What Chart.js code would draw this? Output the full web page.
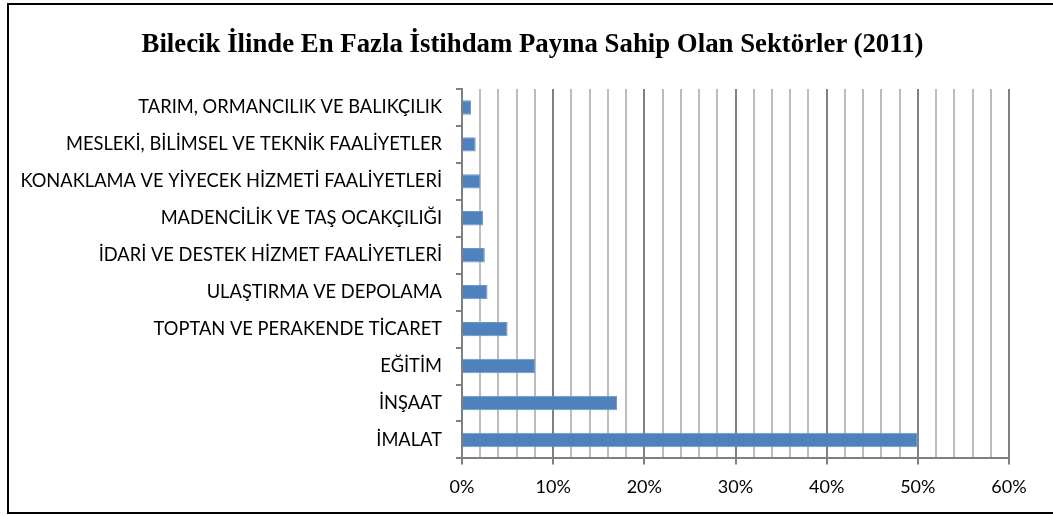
<!DOCTYPE html>
<html>
<head>
<meta charset="utf-8">
<script src="https://cdn.jsdelivr.net/npm/chart.js@4"></script>
<style>
  html, body { margin: 0; padding: 0; background: #fff; }
  #wrap { position: relative; width: 1053px; height: 516px; }
  #frame { position: absolute; left: 7px; top: 3px; width: 1060px; height: 511px; border: 2px solid #000; box-sizing: border-box; }
  #title { position: absolute; left: 56px; width: 953px; top: 28px; line-height: 32px; text-align: center;
           font: bold 26.8px 'Liberation Serif', serif; color: #000; white-space: nowrap; }
  canvas { position: absolute; left: 0; top: 0; }
</style>
</head>
<body>
<div id="wrap">
  <div id="frame"></div>
  <canvas id="chart" width="1053" height="516"></canvas>
  <div id="title"></div>
</div>
<script>
const title = 'Bilecik İlinde En Fazla İstihdam Payına Sahip Olan Sektörler (2011)';

const sectors = [
  'TARIM, ORMANCILIK VE BALIKÇILIK',
  'MESLEKİ, BİLİMSEL VE TEKNİK FAALİYETLER',
  'KONAKLAMA VE YİYECEK HİZMETİ FAALİYETLERİ',
  'MADENCİLİK VE TAŞ OCAKÇILIĞI',
  'İDARİ VE DESTEK HİZMET FAALİYETLERİ',
  'ULAŞTIRMA VE DEPOLAMA',
  'TOPTAN VE PERAKENDE TİCARET',
  'EĞİTİM',
  'İNŞAAT',
  'İMALAT'
];

const shares = [0.010, 0.015, 0.020, 0.023, 0.025, 0.028, 0.050, 0.080, 0.170, 0.500];

const isMajor = (v) => Math.abs(v * 10 - Math.round(v * 10)) < 1e-6;

document.getElementById('title').textContent = title;

const ctx = document.getElementById('chart').getContext('2d');
new Chart(ctx, {
  type: 'bar',
  data: {
    labels: sectors,
    datasets: [
      {
        data: shares,
        backgroundColor: '#4F81BD',
        borderColor: '#6a96cc',
        borderWidth: 1,
        categoryPercentage: 1,
        barPercentage: 0.39,
      },
    ],
  },
  options: {
    indexAxis: 'y',
    responsive: false,
    animation: false,
    layout: { padding: { left: 0, right: 44, top: 89, bottom: 6 } },
    plugins: {
      legend: { display: false },
      tooltip: { enabled: false },
      title: { display: false },
    },
    scales: {
      x: {
        min: 0,
        max: 0.6,
        ticks: {
          stepSize: 0.02,
          autoSkip: false,
          maxRotation: 0,
          color: '#000',
          font: { family: 'Lato', size: 18 },
          padding: 12,
          callback: (v) => (isMajor(v) ? Math.round(v * 100) + '%' : ''),
        },
        grid: {
          color: (c) => (isMajor(c.tick.value) ? '#808080' : '#bdbdbd'),
          tickColor: (c) => (isMajor(c.tick.value) ? '#808080' : 'rgba(0,0,0,0)'),
          lineWidth: 2,
          tickLength: 6,
        },
        border: { color: '#808080', width: 2 },
      },
      y: {
        afterFit: (s) => { s.width = 462; },
        ticks: {
          color: '#000',
          font: { family: 'Lato', size: 18.3 },
          padding: 14,
        },
        grid: {
          drawOnChartArea: false,
          color: '#808080',
          lineWidth: 2,
          tickLength: 6,
        },
        border: { color: '#808080', width: 2 },
      },
    },
  },
});
</script>
</body>
</html>
